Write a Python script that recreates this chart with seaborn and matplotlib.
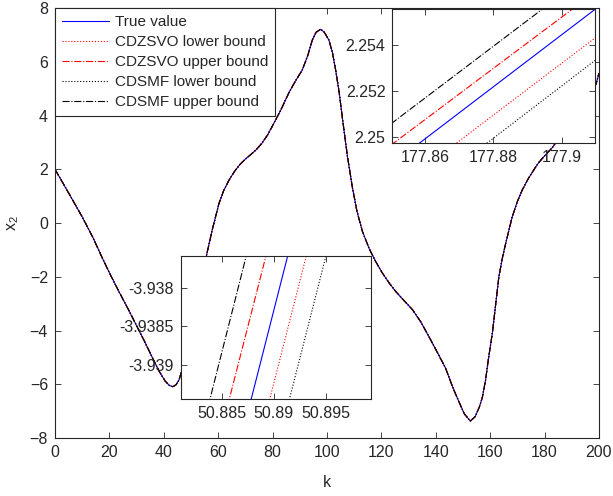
import matplotlib
matplotlib.use('Agg')
import matplotlib.pyplot as plt
import seaborn as sns
import pandas as pd

# ---------------- data ----------------
k_main = [0, 5, 10, 14, 17.3, 20, 23.5, 27, 30, 33, 36, 38.5, 40.5, 42, 43.3,
          44.5, 45.6, 48, 50.89, 53.3, 55.6, 57.8, 60.3, 62, 64, 66, 68, 70, 72,
          74, 76, 78, 80, 83, 86, 88.5, 90.9, 93, 94.6, 96, 97.7, 99, 100.7, 102,
          103.2, 104.5, 105.6, 107.5, 109.3, 111, 113, 115.5, 118, 120.3, 123,
          125.3, 128, 131.4, 134.5, 137.5, 140.5, 143.6, 146, 148.5, 150.5, 152.7,
          154.5, 156, 157.1, 158.3, 159.3, 160.8, 162, 163.2, 164.5, 165.7, 168.1,
          170, 171.8, 174, 176.7, 177.88, 180, 182.8, 184, 186, 190, 194, 197,
          199, 200]
x2_true = [2.0, 1.12, 0.23, -0.55, -1.28, -1.85, -2.55, -3.22, -3.82, -4.42,
           -5.05, -5.55, -5.88, -6.04, -6.09, -6.02, -5.84, -5.05, -3.94, -2.6,
           -1.25, -0.26, 0.73, 1.2, 1.6, 1.92, 2.18, 2.38, 2.55, 2.73, 2.96, 3.25,
           3.62, 4.2, 4.85, 5.3, 5.69, 6.25, 6.81, 7.1, 7.21, 7.1, 6.81, 6.35,
           5.69, 4.85, 3.96, 2.5, 1.35, 0.45, -0.3, -0.95, -1.45, -1.85, -2.25,
           -2.55, -2.85, -3.22, -3.68, -4.23, -4.8, -5.4, -6.05, -6.65, -7.1, -7.37,
           -7.2, -6.85, -6.5, -5.85, -5.1, -4.1, -3.05, -2.0, -1.3, -0.76, 0.23,
           0.8, 1.23, 1.65, 2.08, 2.252, 2.5, 2.8, 2.97, 3.22, 3.7, 4.2, 4.7, 5.2,
           5.57]

series_labels = ['True value', 'CDZSVO lower bound', 'CDZSVO upper bound',
                 'CDSMF lower bound', 'CDSMF upper bound']
series_colors = ['blue', 'red', 'red', 'black', 'black']
series_styles = ['-', ':', '-.', ':', '-.']

# zoomed region near k = 177.88
zoomA_k = [177.850, 177.910]
zoomA_true = [2.24877, 2.25558]
zoomA_cdzsvo_lower = [2.24755, 2.25433]
zoomA_cdzsvo_upper = [2.24963, 2.25633]
zoomA_cdsmf_lower = [2.24651, 2.25335]
zoomA_cdsmf_upper = [2.25056, 2.25733]
zoomA_xticks = [177.86, 177.88, 177.9]
zoomA_xticklabels = ['177.86', '177.88', '177.9']
zoomA_yticks = [2.25, 2.252, 2.254]
zoomA_yticklabels = ['2.25', '2.252', '2.254']

# zoomed region near k = 50.89
zoomB_k = [50.880, 50.900]
zoomB_true = [-3.94363, -3.93295]
zoomB_cdzsvo_lower = [-3.94457, -3.93391]
zoomB_cdzsvo_upper = [-3.94249, -3.93187]
zoomB_cdsmf_lower = [-3.94559, -3.93491]
zoomB_cdsmf_upper = [-3.94153, -3.93079]
zoomB_xticks = [50.885, 50.89, 50.895]
zoomB_xticklabels = ['50.885', '50.89', '50.895']
zoomB_yticks = [-3.939, -3.9385, -3.938]
zoomB_yticklabels = ['-3.939', '-3.9385', '-3.938']

# ---------------- styling ----------------
sns.set_theme(style='ticks')
plt.rcParams['font.family'] = ['Liberation Sans', 'DejaVu Sans']
plt.rcParams['mathtext.fontset'] = 'custom'
plt.rcParams['mathtext.rm'] = 'Liberation Sans'
FS = 11.5
LEG_FS = 11
DARK = '#262626'
LW = 0.8

fig = plt.figure(figsize=(6.13, 4.96), dpi=100)
ax = fig.add_axes([0.0897, 0.1169, 0.8874, 0.8669])


def style_axes(a):
    for s in a.spines.values():
        s.set_color(DARK)
        s.set_linewidth(0.8)
    a.tick_params(direction='in', top=True, right=True, length=4, width=0.6,
                  color=DARK, labelcolor=DARK, labelsize=FS, pad=5)
    a.set_facecolor('white')
    a.grid(False)


main_df = pd.DataFrame({'k': k_main, 'x2': x2_true})
for lab, col, ls in zip(series_labels, series_colors, series_styles):
    sns.lineplot(data=main_df, x='k', y='x2', ax=ax, color=col, linestyle=ls,
                 linewidth=LW, label=lab, sort=False)

ax.set_xlim(0, 200)
ax.set_ylim(-8, 8)
ax.set_xticks(range(0, 201, 20))
ax.set_yticks(range(-8, 9, 2))
style_axes(ax)
ax.set_xlabel('k', fontsize=FS, color=DARK, labelpad=11)
ax.set_ylabel(r'$\mathregular{x_2}$', fontsize=FS, color=DARK, labelpad=6)

leg = ax.legend(loc='upper left', bbox_to_anchor=(0, 1), borderaxespad=0,
                fontsize=LEG_FS, frameon=True, fancybox=False, handlelength=3.1,
                handletextpad=0.35, labelspacing=0.4, borderpad=0.45)
leg.get_frame().set_edgecolor(DARK)
leg.get_frame().set_linewidth(0.8)
leg.get_frame().set_alpha(1)


def draw_inset(rect, kk, series, xlim, ylim, xt, xtl, yt, ytl):
    a = fig.add_axes(rect)
    for vals, col, ls in zip(series, series_colors, series_styles):
        df = pd.DataFrame({'k': kk, 'v': vals})
        sns.lineplot(data=df, x='k', y='v', ax=a, color=col, linestyle=ls,
                     linewidth=LW, sort=False)
    a.set_xlim(*xlim)
    a.set_ylim(*ylim)
    a.set_xticks(xt)
    a.set_xticklabels(xtl)
    a.set_yticks(yt)
    a.set_yticklabels(ytl)
    a.set_xlabel('')
    a.set_ylabel('')
    style_axes(a)
    return a


draw_inset([0.640, 0.7111, 0.3307, 0.2702], zoomA_k,
           [zoomA_true, zoomA_cdzsvo_lower, zoomA_cdzsvo_upper,
            zoomA_cdsmf_lower, zoomA_cdsmf_upper],
           (177.8504, 177.9098), (2.24971, 2.25556),
           zoomA_xticks, zoomA_xticklabels, zoomA_yticks, zoomA_yticklabels)

draw_inset([0.2953, 0.1950, 0.3095, 0.2889], zoomB_k,
           [zoomB_true, zoomB_cdzsvo_lower, zoomB_cdzsvo_upper,
            zoomB_cdsmf_lower, zoomB_cdsmf_upper],
           (50.8811, 50.8993), (-3.93945, -3.93758),
           zoomB_xticks, zoomB_xticklabels, zoomB_yticks, zoomB_yticklabels)

fig.savefig('out.png', dpi=100)
